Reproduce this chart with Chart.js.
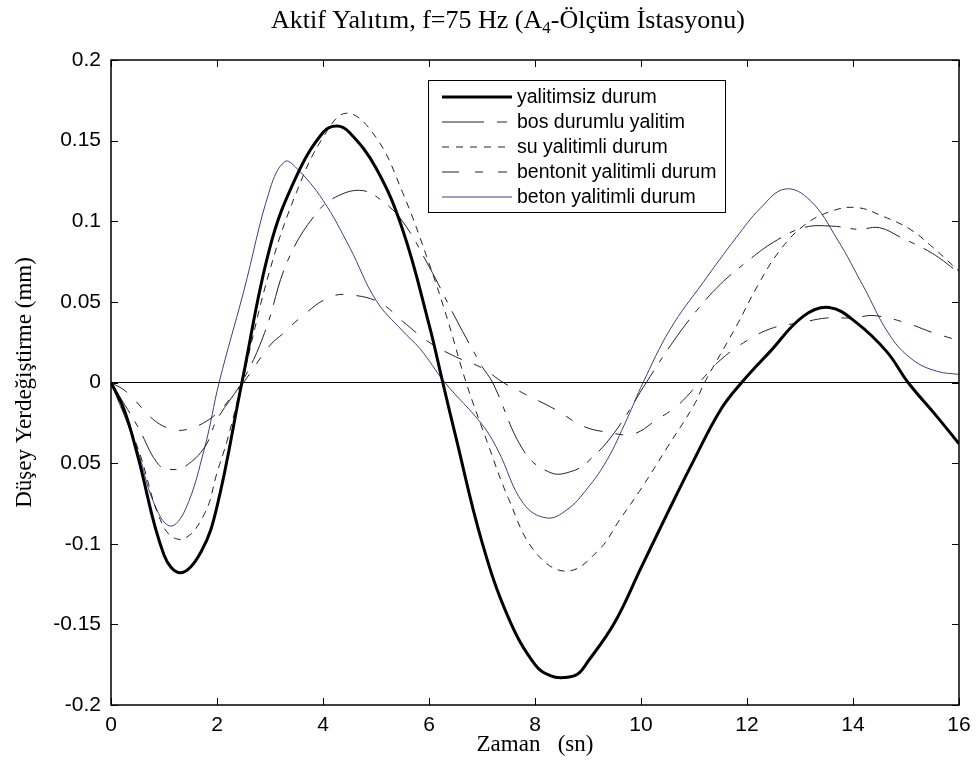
<!DOCTYPE html>
<html>
<head>
<meta charset="utf-8">
<script src="https://cdn.jsdelivr.net/npm/chart.js@4.4.1/dist/chart.umd.min.js"></script>
<style>
  body { margin: 0; background: #fff; }
</style>
</head>
<body>
<canvas id="myChart" width="976" height="767"></canvas>
<script>
// axis ticks
const xTicks = [0, 2, 4, 6, 8, 10, 12, 14, 16];
const yTickValues = [-0.2, -0.15, -0.1, -0.05, 0, 0.05, 0.1, 0.15, 0.2];
const yTickLabels = ['-0.2', '-0.15', '-0.1', '0.05', '0', '0.05', '0.1', '0.15', '0.2']; // as printed in the figure

const seriesNames = ['yalitimsiz durum', 'bos durumlu yalitim', 'su yalitimli durum', 'bentonit yalitimli durum', 'beton yalitimli durum'];

// yalitimsiz durum (thick black)
const tYalitimsiz = [0, 0.25, 0.5, 1, 1.32, 1.7, 2, 2.47, 3, 3.5, 4, 4.26, 4.5, 5, 5.5, 6, 6.26, 6.5, 7, 7.5, 8, 8.3, 8.55, 8.8, 9, 9.5, 10, 10.5, 11, 11.5, 11.9, 12.43, 13.06, 13.55, 14.07, 14.64, 15.04, 15.58, 16];
const vYalitimsiz = [0, -0.017, -0.045, -0.107, -0.118, -0.105, -0.077, 0, 0.084, 0.128, 0.155, 0.159, 0.155, 0.133, 0.095, 0.036, 0, -0.033, -0.099, -0.146, -0.175, -0.182, -0.183, -0.181, -0.173, -0.149, -0.115, -0.081, -0.048, -0.017, 0, 0.019, 0.041, 0.0465, 0.037, 0.019, 0, -0.021, -0.038];

// bos durumlu yalitim
const tBos = [0, 0.5, 0.9, 1.17, 1.4, 1.77, 2, 2.5, 2.9, 3.34, 3.9, 4.3, 4.75, 5.1, 5.5, 6, 6.5, 7, 7.2, 7.8, 8.3, 8.7, 9, 9.5, 10.1, 10.6, 11.06, 11.5, 12, 12.5, 13.06, 13.6, 14.1, 14.5, 14.9, 15.5, 16];
const vBos = [0, -0.027, -0.051, -0.054, -0.052, -0.040, -0.023, 0.002, 0.031, 0.076, 0.106, 0.116, 0.119, 0.113, 0.100, 0.072, 0.040, 0.010, 0, -0.043, -0.056, -0.055, -0.049, -0.031, 0, 0.025, 0.045, 0.061, 0.075, 0.087, 0.096, 0.097, 0.095, 0.096, 0.090, 0.080, 0.068];

// su yalitimli durum
const tSu = [0, 0.5, 1, 1.36, 1.77, 2, 2.2, 2.47, 3, 3.5, 4, 4.45, 5, 5.5, 6, 6.35, 6.7, 7.1, 7.5, 8, 8.6, 9.2, 9.6, 10, 10.5, 11, 11.2, 11.8, 12.2, 12.6, 13.06, 13.57, 14.07, 14.57, 15.08, 15.5, 16];
const vSu = [0, -0.040, -0.090, -0.097, -0.081, -0.056, -0.035, 0, 0.070, 0.118, 0.152, 0.167, 0.152, 0.118, 0.074, 0.039, 0, -0.037, -0.072, -0.105, -0.117, -0.104, -0.085, -0.066, -0.040, -0.014, 0, 0.035, 0.060, 0.081, 0.097, 0.106, 0.1085, 0.103, 0.095, 0.084, 0.069];

// bentonit yalitimli durum
const tBentonit = [0, 0.3, 0.8, 1.15, 1.45, 1.8, 2.06, 2.3, 2.5, 3, 3.27, 3.53, 4.13, 4.6, 5.1, 5.5, 6, 6.5, 7, 7.4, 7.8, 8.4, 8.9, 9.4, 9.85, 10.3, 10.7, 11.1, 11.5, 12, 12.5, 13, 13.5, 14, 14.4, 15, 15.5, 16];
const vBentonit = [0, -0.006, -0.023, -0.029, -0.029, -0.024, -0.017, -0.008, 0, 0.023, 0.031, 0.039, 0.053, 0.054, 0.049, 0.038, 0.025, 0.016, 0.009, 0, -0.007, -0.017, -0.027, -0.031, -0.032, -0.023, -0.014, 0, 0.014, 0.026, 0.034, 0.037, 0.040, 0.040, 0.0415, 0.037, 0.031, 0.026];

// beton yalitimli durum (blue)
const tBeton = [0, 0.5, 0.8, 1.11, 1.4, 1.77, 2.04, 2.5, 3, 3.28, 3.5, 4, 4.5, 5, 5.5, 5.83, 6.3, 7, 7.3, 7.78, 8.22, 8.6, 8.98, 9.36, 9.73, 10.04, 10.55, 11.17, 11.8, 12.25, 12.72, 13.19, 13.7, 14.19, 14.7, 15.13, 15.58, 16];
const vBeton = [0, -0.042, -0.074, -0.089, -0.079, -0.040, 0, 0.056, 0.120, 0.137, 0.133, 0.113, 0.084, 0.051, 0.032, 0.021, 0, -0.026, -0.042, -0.075, -0.084, -0.079, -0.066, -0.048, -0.023, 0, 0.033, 0.062, 0.090, 0.108, 0.120, 0.113, 0.089, 0.060, 0.029, 0.014, 0.007, 0.005];

function points(ts, vs){
    return ts.map((t, i) => ({x: t, y: vs[i]}));
}

const datasets = [
    {label: seriesNames[0], data: points(tYalitimsiz, vYalitimsiz), borderColor: '#000', borderWidth: 3, borderDash: [], legendDash: []},
    {label: seriesNames[1], data: points(tBos, vBos), borderColor: '#222', borderWidth: 1, borderDash: [36, 10, 6, 10], legendDash: [42, 13, 10, 20]},
    {label: seriesNames[2], data: points(tSu, vSu), borderColor: '#222', borderWidth: 1, borderDash: [7, 6], legendDash: [7, 7]},
    {label: seriesNames[3], data: points(tBentonit, vBentonit), borderColor: '#222', borderWidth: 1, borderDash: [19, 13, 8, 13], legendDash: [17, 16, 8, 15, 9, 20]},
    {label: seriesNames[4], data: points(tBeton, vBeton), borderColor: '#3e3e80', borderWidth: 1, borderDash: [], legendDash: []}
];

// box round the plot with inward tick marks on all four sides
const frameTicks = {
    id: 'frameTicks',
    afterDatasetsDraw(chart){
        const {ctx, chartArea: a, scales: {x, y}} = chart;
        ctx.save();
        ctx.strokeStyle = '#000';
        ctx.lineWidth = 1;
        ctx.beginPath();
        xTicks.forEach(v => {
            const px = Math.round(x.getPixelForValue(v)) + 0.5;
            ctx.moveTo(px, a.bottom); ctx.lineTo(px, a.bottom - 7);
            ctx.moveTo(px, a.top); ctx.lineTo(px, a.top + 7);
        });
        yTickValues.forEach(v => {
            const py = Math.round(y.getPixelForValue(v)) + 0.5;
            ctx.moveTo(a.left, py); ctx.lineTo(a.left + 7, py);
            ctx.moveTo(a.right, py); ctx.lineTo(a.right - 7, py);
        });
        ctx.stroke();
        ctx.lineWidth = 1.5;
        ctx.strokeRect(a.left, a.top, a.right - a.left, a.bottom - a.top);
        ctx.restore();
    }
};

// legend box inside the plot
const legendBox = {
    id: 'legendBox',
    afterDraw(chart){
        const {ctx, chartArea: a} = chart;
        const left = a.left + 317, top = a.top + 20, w = 297, h = 132;
        ctx.save();
        ctx.fillStyle = '#fff';
        ctx.fillRect(left, top, w, h);
        ctx.strokeStyle = '#000';
        ctx.lineWidth = 1;
        ctx.strokeRect(left + 0.5, top + 0.5, w, h);
        ctx.font = '19.5px "Liberation Sans"';
        ctx.textBaseline = 'middle';
        chart.data.datasets.forEach((ds, i) => {
            const yy = top + 17 + i * 25;
            ctx.setLineDash(ds.legendDash);
            ctx.strokeStyle = ds.borderColor;
            ctx.lineWidth = ds.borderWidth;
            ctx.beginPath();
            ctx.moveTo(left + 14, yy);
            ctx.lineTo(left + 84, yy);
            ctx.stroke();
            ctx.setLineDash([]);
            ctx.fillStyle = '#000';
            ctx.fillText(ds.label, left + 89, yy + 1);
        });
        ctx.restore();
    }
};

// title with subscript 4
const topTitle = {
    id: 'topTitle',
    afterDraw(chart){
        const {ctx, chartArea: a} = chart;
        const parts = ['Aktif Yalıtım, f=75 Hz (A', '4', '-Ölçüm İstasyonu)'];
        const big = '26px "Liberation Serif"', small = '17px "Liberation Serif"';
        ctx.save();
        ctx.fillStyle = '#000';
        ctx.textBaseline = 'alphabetic';
        ctx.font = big;
        const w0 = ctx.measureText(parts[0]).width, w2 = ctx.measureText(parts[2]).width;
        ctx.font = small;
        const w1 = ctx.measureText(parts[1]).width;
        let x = (a.left + a.right) / 2 - 27 - (w0 + w1 + w2) / 2;
        const base = 28;
        ctx.font = big; ctx.fillText(parts[0], x, base); x += w0;
        ctx.font = small; ctx.fillText(parts[1], x, base + 5); x += w1;
        ctx.font = big; ctx.fillText(parts[2], x, base);
        ctx.restore();
    }
};

function createChart(){
    const ctx = document.querySelector('#myChart').getContext('2d');
    return new Chart(ctx, {
        type: 'line',
        data: {datasets: datasets},
        options: {
            responsive: false,
            animation: false,
            devicePixelRatio: 1,
            layout: {padding: {top: 60, right: 17, left: 0, bottom: 0}},
            elements: {
                point: {radius: 0},
                line: {tension: 0.4}
            },
            plugins: {
                legend: {display: false},
                title: {display: false},
                tooltip: {enabled: false}
            },
            scales: {
                x: {
                    type: 'linear',
                    min: 0,
                    max: 16,
                    afterFit: s => { s.height = 62; },
                    afterBuildTicks: s => { s.ticks = xTicks.map(v => ({value: v})); },
                    ticks: {
                        color: '#000',
                        font: {family: 'Liberation Sans', size: 21},
                        padding: 0,
                        maxRotation: 0,
                        autoSkip: false
                    },
                    grid: {display: false},
                    border: {display: false},
                    title: {
                        display: true,
                        text: 'Zaman   (sn)',
                        color: '#000',
                        font: {family: 'Liberation Serif', size: 23},
                        padding: {top: 0, bottom: 8}
                    }
                },
                y: {
                    min: -0.2,
                    max: 0.2,
                    afterFit: s => { s.width = 111; },
                    afterBuildTicks: s => { s.ticks = yTickValues.map(v => ({value: v})); },
                    ticks: {
                        color: '#000',
                        font: {family: 'Liberation Sans', size: 21},
                        padding: 10,
                        callback: (v, i) => yTickLabels[i]
                    },
                    grid: {
                        color: c => (c.tick && c.tick.value === 0 ? '#000' : 'rgba(0,0,0,0)'),
                        drawTicks: false,
                        lineWidth: 1
                    },
                    border: {display: false},
                    title: {
                        display: true,
                        text: 'Düşey Yerdeğiştirme (mm)',
                        color: '#000',
                        font: {family: 'Liberation Serif', size: 23},
                        padding: {top: 11, bottom: 0}
                    }
                }
            }
        },
        plugins: [frameTicks, legendBox, topTitle]
    });
}

let myChart = createChart();
</script>
</body>
</html>
